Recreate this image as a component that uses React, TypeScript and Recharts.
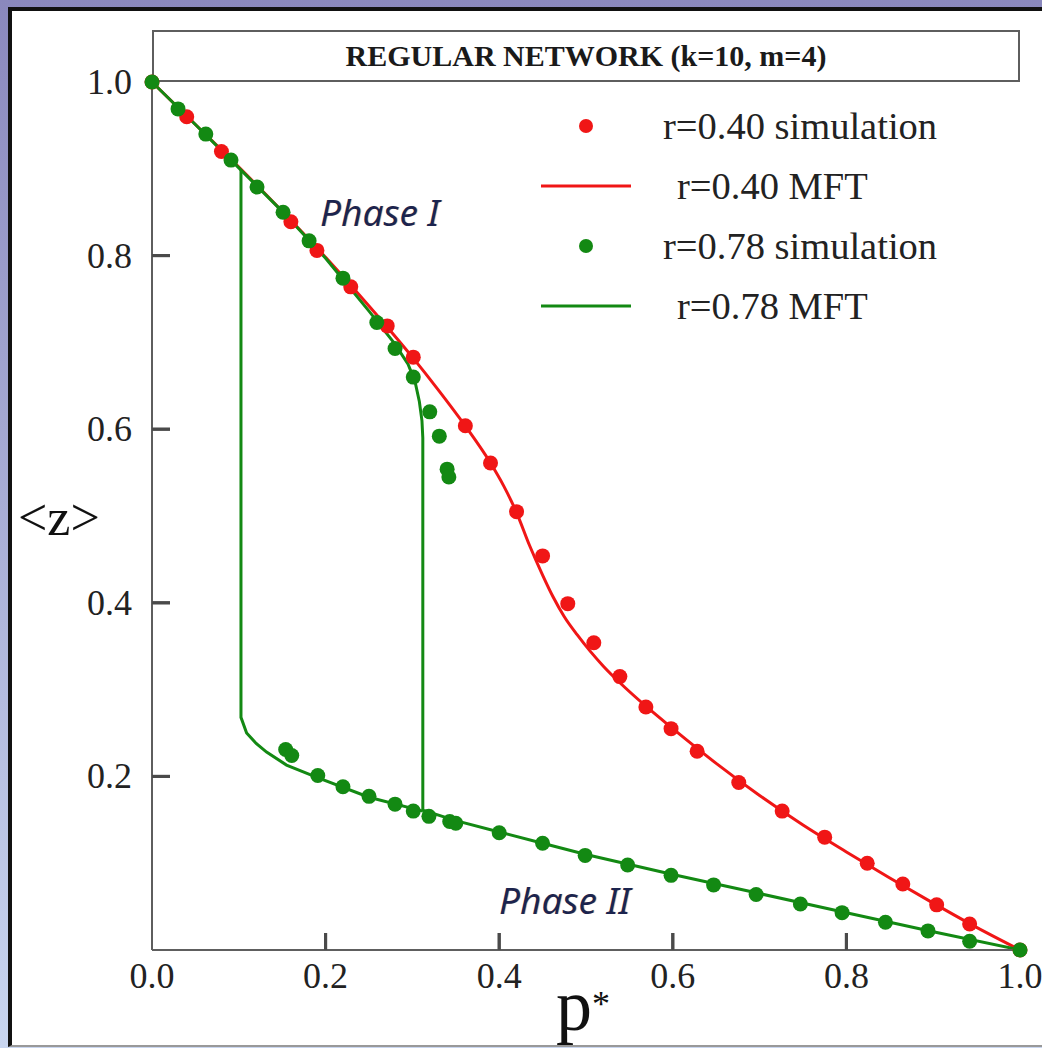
import React from "react";
import { ComposedChart, Line, Scatter, XAxis, YAxis, Legend } from "recharts";

const RED = "#f01616";
const GREEN = "#138913";
const AXIS = "#5e5e5e";
const TICK = "#4a4a4a";
const SERIF = '"Liberation Serif", "Times New Roman", serif';

const xTicks = [0, 0.2, 0.4, 0.6, 0.8, 1.0];
const yTicks = [0.2, 0.4, 0.6, 0.8, 1.0];
const innerTicks = [0.2, 0.4, 0.6, 0.8];
const TICK_X_LEN = 0.0196; // inward tick length on the bottom axis, in <z> units
const TICK_Y_LEN = 0.0207; // inward tick length on the left axis, in p* units

// simulation points, [p*, <z>]
const simR040: [number, number][] = [
  [0, 1], [0.04, 0.96], [0.08, 0.92], [0.16, 0.839], [0.19, 0.806], [0.229, 0.764],
  [0.271, 0.719], [0.301, 0.683], [0.361, 0.604], [0.39, 0.561], [0.42, 0.505],
  [0.45, 0.454], [0.479, 0.399], [0.509, 0.354], [0.539, 0.315], [0.569, 0.28],
  [0.598, 0.255], [0.628, 0.229], [0.676, 0.193], [0.726, 0.16], [0.775, 0.13],
  [0.824, 0.1], [0.865, 0.076], [0.904, 0.052], [0.942, 0.03], [1, 0],
];

const simR078: [number, number][] = [
  [0, 1], [0.03, 0.969], [0.062, 0.94], [0.091, 0.91], [0.121, 0.879], [0.151, 0.85],
  [0.181, 0.817], [0.22, 0.774], [0.259, 0.723], [0.28, 0.693], [0.301, 0.66],
  [0.32, 0.62], [0.331, 0.592], [0.34, 0.554], [0.342, 0.545],
  [0.154, 0.231], [0.161, 0.224], [0.191, 0.201], [0.22, 0.188], [0.25, 0.177],
  [0.28, 0.168], [0.301, 0.16], [0.319, 0.154], [0.343, 0.148], [0.35, 0.146],
  [0.4, 0.135], [0.45, 0.123], [0.499, 0.109], [0.548, 0.098], [0.598, 0.086],
  [0.647, 0.075], [0.696, 0.064], [0.747, 0.053], [0.795, 0.043], [0.845, 0.032],
  [0.894, 0.022], [0.942, 0.01], [1, 0],
];

// mean-field theory curves
const mftR040: [number, number][] = [
  [0, 1], [0.05, 0.951], [0.1, 0.902], [0.15, 0.851], [0.2, 0.798], [0.25, 0.742],
  [0.3, 0.683], [0.33, 0.645], [0.36, 0.605], [0.39, 0.561], [0.405, 0.535],
  [0.42, 0.504], [0.435, 0.466], [0.45, 0.432], [0.462, 0.407], [0.475, 0.384],
  [0.49, 0.363], [0.505, 0.344], [0.52, 0.327], [0.54, 0.307], [0.57, 0.28],
  [0.6, 0.255], [0.65, 0.215], [0.7, 0.178], [0.75, 0.144], [0.8, 0.113],
  [0.85, 0.083], [0.9, 0.054], [0.95, 0.026], [1, 0],
];

const mftR078: [number, number][] = [
  [0, 1], [0.05, 0.951], [0.1, 0.901], [0.15, 0.851], [0.2, 0.797], [0.25, 0.736],
  [0.28, 0.698], [0.295, 0.675], [0.303, 0.655], [0.308, 0.632], [0.311, 0.61],
  [0.312, 0.59], [0.312, 0.161], [0.35, 0.149], [0.4, 0.136], [0.45, 0.123],
  [0.5, 0.11], [0.6, 0.087], [0.7, 0.065], [0.8, 0.043], [0.9, 0.021], [1, 0],
];

const mftR078Back: [number, number][] = [
  [0.1025, 0.899], [0.1025, 0.268], [0.109, 0.25], [0.12, 0.238], [0.132, 0.228],
  [0.155, 0.213], [0.19, 0.199], [0.25, 0.176], [0.312, 0.16],
];

const LEGEND_ORDER = ["r=0.40 simulation", "r=0.40 MFT", "r=0.78 simulation", "r=0.78 MFT"];

const pts = (a: [number, number][]) => a.map(([p, z]) => ({ p, z }));

const dot = (color: string) => (props: any) => (
  <circle cx={props.cx} cy={props.cy} r={7.5} fill={color} />
);

// labels outside the frame, short marks pointing into the plot
function XTick({ x, y, payload }: any) {
  const v = Number(payload.value);
  return (
    <g>
      {v > 0 && v < 1 && (
        <path d={`M${x},${y - 12}V${y - 29}`} stroke={TICK} strokeWidth={3} fill="none" />
      )}
      <text x={x} y={y + 26} textAnchor="middle" fill="#222" fontSize={36} fontFamily={SERIF}>
        {v.toFixed(1)}
      </text>
    </g>
  );
}

function YTick({ x, y, payload }: any) {
  const v = Number(payload.value);
  return (
    <g>
      {v > 0 && v < 1 && (
        <path d={`M${x + 20},${y}H${x + 38}`} stroke={TICK} strokeWidth={3} fill="none" />
      )}
      <text x={x} y={y + 12} textAnchor="end" fill="#222" fontSize={36} fontFamily={SERIF}>
        {v.toFixed(1)}
      </text>
    </g>
  );
}

function LegendBox({ payload }: any) {
  const items = LEGEND_ORDER.map((name) => (payload || []).find((d: any) => d.value === name)).filter(Boolean);
  return (
    <div style={{ fontFamily: SERIF, fontSize: 38.5, color: "#222" }}>
      {items.map((d: any) => {
        const isDot = d.type !== "line";
        const color = d.value.includes("0.40") ? RED : GREEN;
        return (
          <div key={d.value} style={{ display: "flex", alignItems: "center", height: 60 }}>
            <svg width={122} height={20} style={{ flex: "none" }}>
              {isDot ? (
                <circle cx={45} cy={10} r={7} fill={color} />
              ) : (
                <line x1={0} x2={90} y1={10} y2={10} stroke={color} strokeWidth={3} />
              )}
            </svg>
            <span style={{ marginLeft: isDot ? 0 : 14, whiteSpace: "nowrap" }}>{d.value}</span>
          </div>
        );
      })}
    </div>
  );
}

const phaseStyle: React.CSSProperties = {
  position: "absolute",
  fontFamily: '"Noto Sans", "Open Sans", sans-serif',
  fontStyle: "italic",
  fontSize: 37,
  lineHeight: "44px",
  color: "#1b244f",
  textShadow: "1px 0 0 rgba(230,150,60,0.45)",
  whiteSpace: "nowrap",
};

export default function App() {
  return (
    <div
      style={{
        position: "absolute",
        left: 0,
        top: 0,
        width: 1042,
        height: 1048,
        overflow: "hidden",
        background: "linear-gradient(to bottom, #8a88bd, #c9d6f0)",
      }}
    >
      <div
        style={{
          position: "absolute",
          left: 8,
          top: 7,
          right: 0,
          bottom: 1,
          background: "#fff",
          borderLeft: "4px solid #111",
          borderTop: "4px solid #111",
          borderBottom: "2px solid #999",
        }}
      />
      <div
        style={{
          position: "absolute",
          left: 152,
          top: 30,
          width: 868,
          height: 52,
          border: `2px solid ${AXIS}`,
          boxSizing: "border-box",
          display: "flex",
          alignItems: "center",
          justifyContent: "center",
          fontFamily: SERIF,
          fontWeight: "bold",
          fontSize: 30,
          color: "#1a1a1a",
        }}
      >
        REGULAR NETWORK (k=10, m=4)
      </div>
      <div style={{ position: "absolute", left: 0, top: 0 }}>
        <ComposedChart width={1042} height={1048} margin={{ top: 82, right: 22, bottom: 38, left: 72 }}>
          <XAxis
            dataKey="p"
            type="number"
            domain={[0, 1]}
            ticks={xTicks}
            interval={0}
            height={60}
            tickSize={0}
            tickMargin={12}
            axisLine={{ stroke: AXIS, strokeWidth: 2 }}
            tickLine={false}
            tick={<XTick />}
          />
          <XAxis
            xAxisId="top"
            orientation="top"
            dataKey="p"
            type="number"
            domain={[0, 1]}
            height={0}
            tick={false}
            tickLine={false}
            axisLine={{ stroke: AXIS, strokeWidth: 2 }}
          />
          <YAxis
            dataKey="z"
            type="number"
            domain={[0, 1]}
            ticks={yTicks}
            interval={0}
            width={80}
            tickSize={0}
            tickMargin={20}
            axisLine={{ stroke: AXIS, strokeWidth: 2 }}
            tickLine={false}
            tick={<YTick />}
          />
          <YAxis
            yAxisId="right"
            orientation="right"
            dataKey="z"
            type="number"
            domain={[0, 1]}
            width={0}
            tick={false}
            tickLine={false}
            axisLine={{ stroke: AXIS, strokeWidth: 2 }}
          />
          {innerTicks.map((t) => (
            <Line
              key={`xt${t}`}
              data={[{ p: t, z: 0 }, { p: t, z: TICK_X_LEN }]}
              dataKey="z"
              name={`xtick ${t}`}
              legendType="none"
              type="linear"
              stroke={TICK}
              strokeWidth={3}
              dot={false}
              activeDot={false}
              isAnimationActive={false}
            />
          ))}
          {innerTicks.map((t) => (
            <Line
              key={`yt${t}`}
              data={[{ p: 0, z: t }, { p: TICK_Y_LEN, z: t }]}
              dataKey="z"
              name={`ytick ${t}`}
              legendType="none"
              type="linear"
              stroke={TICK}
              strokeWidth={3}
              dot={false}
              activeDot={false}
              isAnimationActive={false}
            />
          ))}
          <Line
            data={pts(mftR040)}
            dataKey="z"
            name="r=0.40 MFT"
            type="monotone"
            stroke={RED}
            strokeWidth={3}
            dot={false}
            activeDot={false}
            isAnimationActive={false}
          />
          <Line
            data={pts(mftR078)}
            dataKey="z"
            name="r=0.78 MFT"
            type="linear"
            stroke={GREEN}
            strokeWidth={3}
            dot={false}
            activeDot={false}
            isAnimationActive={false}
          />
          <Line
            data={pts(mftR078Back)}
            dataKey="z"
            name="r=0.78 MFT (back)"
            legendType="none"
            type="linear"
            stroke={GREEN}
            strokeWidth={3}
            dot={false}
            activeDot={false}
            isAnimationActive={false}
          />
          <Scatter
            data={pts(simR040)}
            dataKey="z"
            name="r=0.40 simulation"
            fill={RED}
            shape={dot(RED)}
            isAnimationActive={false}
          />
          <Scatter
            data={pts(simR078)}
            dataKey="z"
            name="r=0.78 simulation"
            fill={GREEN}
            shape={dot(GREEN)}
            isAnimationActive={false}
          />
          <Legend
            layout="horizontal"
            align="center"
            verticalAlign="middle"
            content={<LegendBox />}
            wrapperStyle={{ position: "absolute", left: 541, top: 96, width: 440, height: 240 }}
          />
        </ComposedChart>
      </div>
      <div style={{ ...phaseStyle, left: 320, top: 190 }}>Phase I</div>
      <div style={{ ...phaseStyle, left: 499, top: 878 }}>Phase II</div>
      <div
        style={{
          position: "absolute",
          left: 18,
          top: 488,
          fontFamily: SERIF,
          fontSize: 52,
          color: "#111",
          lineHeight: "60px",
        }}
      >
        &lt;z&gt;
      </div>
      <div
        style={{
          position: "absolute",
          left: 556,
          top: 968,
          fontFamily: SERIF,
          fontSize: 72,
          color: "#111",
          lineHeight: "76px",
        }}
      >
        p<sup style={{ fontSize: 36, verticalAlign: "top", position: "relative", top: -2 }}>*</sup>
      </div>
    </div>
  );
}
